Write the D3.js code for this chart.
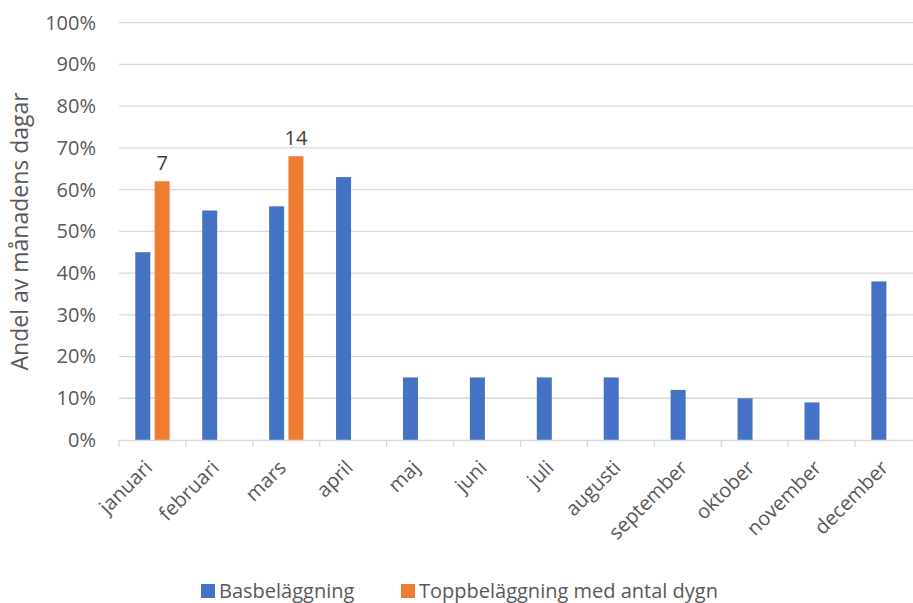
<!DOCTYPE html>
<html><head><meta charset="utf-8">
<script src="https://cdn.jsdelivr.net/npm/d3@7"></script>
<style>body{margin:0;background:#fff;} svg{display:block;font-family:"Open Sans",sans-serif;}</style>
</head><body>
<svg id="c" width="913" height="603"></svg>
<script>
const months = ["januari","februari","mars","april","maj","juni","juli","augusti","september","oktober","november","december"];
const seriesNames = ["Basbeläggning","Toppbeläggning med antal dygn"];
const basValues = [0.45,0.55,0.56,0.63,0.15,0.15,0.15,0.15,0.12,0.10,0.09,0.38];
const toppValues = [0.62,null,0.68,null,null,null,null,null,null,null,null,null];
const toppLabels = ["7",null,"14",null,null,null,null,null,null,null,null,null];
const yTicks = [0,0.1,0.2,0.3,0.4,0.5,0.6,0.7,0.8,0.9,1.0];
const colors = ["#4472C4","#ED7D31"];

const svg = d3.select("#c");
const L = 119, R = 922, T = 22.7, B = 440;
const FS = "20px";
const x = d3.scaleBand().domain(months).range([L, R]).padding(0);
const xi = d3.scaleBand().domain(seriesNames).range([0, x.bandwidth()]).paddingInner(0.223).paddingOuter(0.844);
const y = d3.scaleLinear().domain([0,1]).range([B, T]);

// gridlines
svg.append("g").selectAll("line").data(yTicks.filter(d=>d>0)).join("line")
  .attr("x1", L).attr("x2", R).attr("y1", d=>y(d)).attr("y2", d=>y(d))
  .attr("stroke", "#D9D9D9").attr("stroke-width", 1.3);

// y axis labels
const ya = svg.append("g").attr("transform", `translate(${L},0)`)
  .call(d3.axisLeft(y).tickValues(yTicks).tickFormat(d3.format(".0%")).tickSize(0).tickPadding(23));
ya.select(".domain").remove();
ya.selectAll("text").attr("fill","#595959").style("font-size",FS).style("font-family","Open Sans");

// bars
const data = months.map((m,i)=>({m, vals:[basValues[i], toppValues[i]], lab: toppLabels[i]}));
const g = svg.append("g");
data.forEach(d=>{
  d.vals.forEach((v,k)=>{
    if (v==null) return;
    g.append("rect").attr("x", x(d.m)+xi(seriesNames[k])).attr("width", xi.bandwidth())
      .attr("y", y(v)).attr("height", B - y(v)).attr("fill", colors[k]);
  });
  if (d.lab) {
    g.append("text").attr("x", x(d.m)+xi(seriesNames[1])+xi.bandwidth()/2).attr("y", y(d.vals[1]) - 11)
      .attr("text-anchor","middle").attr("fill","#404040").style("font-size",FS).text(d.lab);
  }
});

// x axis
const xa = svg.append("g").attr("transform", `translate(0,${B})`)
  .call(d3.axisBottom(x).tickSizeInner(0).tickSizeOuter(0).tickPadding(0));
xa.select(".domain").attr("stroke","#D9D9D9").attr("stroke-width",1.3);
xa.selectAll(".tick line").remove();
// tick marks at band boundaries
xa.append("g").selectAll("line").data(months.concat(["_end"])).join("line")
  .attr("x1", (d,i)=>L + i*x.step()).attr("x2", (d,i)=>L + i*x.step())
  .attr("y1",0).attr("y2",7).attr("stroke","#D9D9D9").attr("stroke-width",1.3);
xa.selectAll(".tick text")
  .attr("fill","#595959").style("font-size",FS).style("font-family","Open Sans")
  .attr("text-anchor","end").attr("dy",0).attr("y",0)
  .attr("transform","translate(1,29) rotate(-45)");

// y axis title
svg.append("text").attr("transform", `translate(28,${(T+B)/2}) rotate(-90)`)
  .attr("text-anchor","middle").attr("fill","#595959").style("font-size","23px").text("Andel av månadens dagar");

// legend
const leg = svg.append("g");
const legX = [201, 401];
seriesNames.forEach((n,k)=>{
  leg.append("rect").attr("x", legX[k]).attr("y", 584).attr("width", 14).attr("height", 14).attr("fill", colors[k]);
  leg.append("text").attr("x", legX[k]+18).attr("y", 598).attr("fill","#595959").style("font-size",FS).text(n);
});
</script>
</body></html>
